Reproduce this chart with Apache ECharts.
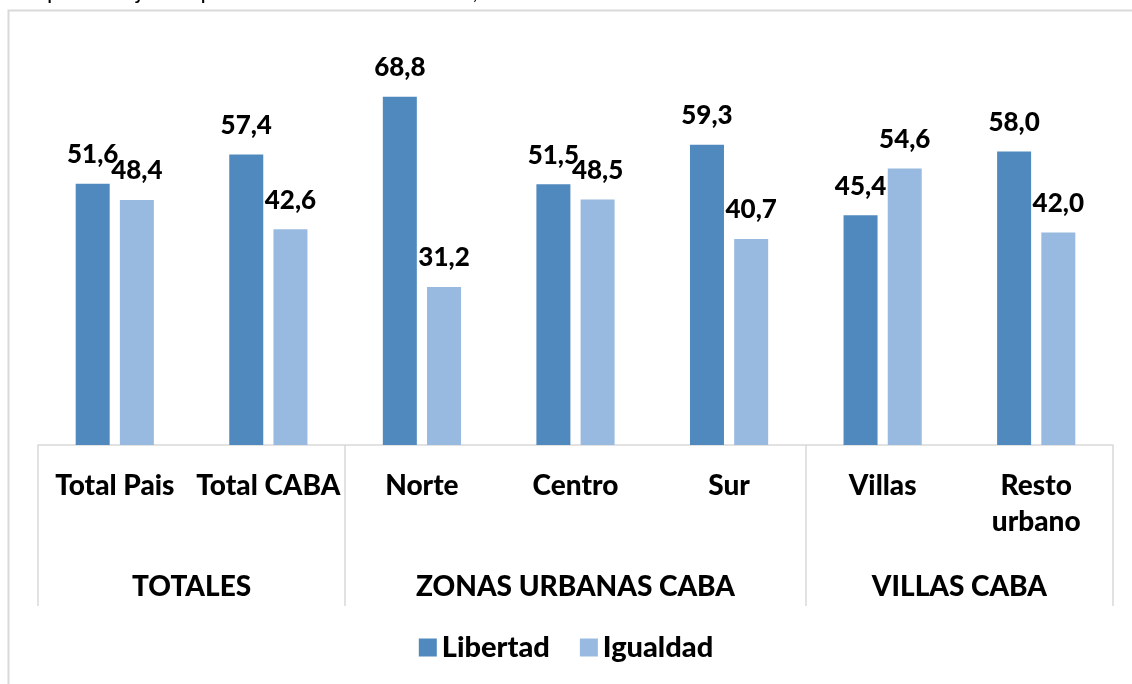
<!DOCTYPE html>
<html>
<head>
<meta charset="utf-8">
<script src="https://cdn.jsdelivr.net/npm/echarts@6/dist/echarts.min.js"></script>
<style>
  html, body { margin: 0; padding: 0; background: #fff; }
  #chart { width: 1132px; height: 684px; }
</style>
</head>
<body>
<div id="chart"></div>
<script>
// categorias y valores (%)
const categories = ['Total Pais', 'Total CABA', 'Norte', 'Centro', 'Sur', 'Villas', 'Resto\nurbano'];
const libertad = [51.6, 57.4, 68.8, 51.5, 59.3, 45.4, 58.0];
const igualdad = [48.4, 42.6, 31.2, 48.5, 40.7, 54.6, 42.0];
const groups = ['TOTALES', 'ZONAS URBANAS CABA', 'VILLAS CABA'];
const groupCenters = [1, 3.5, 6];
const groupEdges = [0, 2, 5, 7];

const fmt = v => v.toFixed(1).replace('.', ',');
const FONT = 'Lato';
const W = 900;

const chart = echarts.init(document.getElementById('chart'));

const labelStyle = {
  show: true,
  position: 'top',
  distance: 16,
  fontFamily: FONT,
  fontWeight: W,
  fontSize: 26,
  color: '#000',
  formatter: p => fmt(p.value)
};

chart.setOption({
  animation: false,
  textStyle: { fontFamily: FONT },
  graphic: [
    {
      type: 'rect',
      shape: { x: 8.5, y: 10.5, width: 1300, height: 1000 },
      style: { fill: 'none', stroke: '#d9d9d9', lineWidth: 2 },
      silent: true
    },
    {
      type: 'text',
      left: 47,
      top: -20,
      style: {
        text: 'porcentajes de personas de 18 años o más, en %',
        font: '23px Lato',
        fill: '#000'
      }
    }
  ],
  legend: {
    bottom: 17,
    left: 'center',
    itemWidth: 18,
    itemHeight: 18,
    itemGap: 30,
    icon: 'rect',
    textStyle: { fontFamily: FONT, fontWeight: W, fontSize: 29, color: '#000' },
    data: ['Libertad', 'Igualdad']
  },
  grid: { left: 38, right: 19, top: 40, bottom: 239 },
  xAxis: [
    {
      type: 'category',
      data: categories,
      position: 'bottom',
      axisLine: { show: true, lineStyle: { color: '#d9d9d9', width: 1.5 } },
      axisTick: { show: false },
      axisLabel: {
        margin: 23,
        fontFamily: FONT,
        fontWeight: W,
        fontSize: 28,
        lineHeight: 36,
        color: '#000',
        interval: 0
      }
    },
    {
      type: 'value',
      min: 0,
      max: 7,
      position: 'bottom',
      axisLine: { show: false },
      splitLine: { show: false },
      axisTick: {
        show: true,
        customValues: groupEdges,
        length: 161,
        lineStyle: { color: '#d9d9d9', width: 1.5 }
      },
      axisLabel: {
        show: true,
        customValues: groupCenters,
        margin: 128,
        fontFamily: FONT,
        fontWeight: W,
        fontSize: 28,
        color: '#000',
        formatter: v => groups[groupCenters.indexOf(v)] || ''
      }
    }
  ],
  yAxis: {
    type: 'value',
    min: 0,
    max: 80,
    show: false,
    splitLine: { show: false }
  },
  series: [
    {
      name: 'Libertad',
      type: 'bar',
      xAxisIndex: 0,
      data: libertad,
      barWidth: 34,
      barGap: '30%',
      itemStyle: { color: '#4f89be' },
      label: labelStyle
    },
    {
      name: 'Igualdad',
      type: 'bar',
      xAxisIndex: 0,
      data: igualdad,
      barWidth: 34,
      itemStyle: { color: '#99bae0' },
      label: labelStyle
    }
  ]
});
</script>
</body>
</html>
